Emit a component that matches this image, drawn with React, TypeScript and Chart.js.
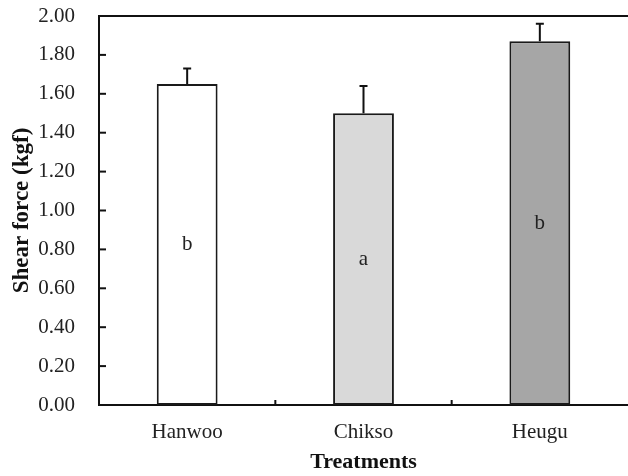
import React, { useEffect, useRef } from 'react';
import { Chart, registerables } from 'chart.js';

Chart.register(...registerables);

const categories = ['Hanwoo', 'Chikso', 'Heugu'];
const means = [1.65, 1.5, 1.87];
const errors = [0.08, 0.14, 0.09];
const letters = ['b', 'a', 'b'];
const barColors = ['#ffffff', '#d9d9d9', '#a6a6a6'];
const yMin = 0;
const yMax = 2;
const yStep = 0.2;

const FONT = '"Liberation Serif", "Times New Roman", serif';

const decorPlugin = {
  id: 'decor',
  afterDatasetsDraw(chart: any) {
    const { ctx, chartArea, scales } = chart;
    const x = scales.x;
    const y = scales.y;
    const meta = chart.getDatasetMeta(0);
    ctx.save();
    ctx.strokeStyle = '#111';
    ctx.lineWidth = 2;
    meta.data.forEach((bar: any, i: number) => {
      const base = y.getPixelForValue(means[i]);
      const top = y.getPixelForValue(means[i] + errors[i]);
      ctx.beginPath();
      ctx.moveTo(bar.x, base);
      ctx.lineTo(bar.x, top);
      ctx.moveTo(bar.x - 4, top);
      ctx.lineTo(bar.x + 4, top);
      ctx.stroke();
      ctx.fillStyle = '#222';
      ctx.font = `21px ${FONT}`;
      ctx.textAlign = 'center';
      ctx.textBaseline = 'middle';
      ctx.fillText(letters[i], bar.x, y.getPixelForValue(means[i] / 2));
    });
    // top border line
    ctx.beginPath();
    ctx.moveTo(chartArea.left - 1, chartArea.top);
    ctx.lineTo(chartArea.right, chartArea.top);
    ctx.stroke();
    // inward y ticks
    y.ticks.forEach((_t: any, i: number) => {
      const py = y.getPixelForTick(i);
      ctx.beginPath();
      ctx.moveTo(chartArea.left, py);
      ctx.lineTo(chartArea.left + 7, py);
      ctx.stroke();
    });
    // inward x ticks at category boundaries
    for (let i = 1; i < categories.length; i++) {
      const px = (x.getPixelForValue(i - 1) + x.getPixelForValue(i)) / 2;
      ctx.beginPath();
      ctx.moveTo(px, chartArea.bottom);
      ctx.lineTo(px, chartArea.bottom - 5);
      ctx.stroke();
    }
    ctx.restore();
  },
};

export default function App() {
  const ref = useRef<HTMLCanvasElement>(null);
  useEffect(() => {
    if (!ref.current) return;
    const chart = new Chart(ref.current, {
      type: 'bar',
      data: {
        labels: categories,
        datasets: [
          {
            data: means,
            backgroundColor: barColors,
            borderColor: '#1a1a1a',
            borderWidth: 2,
            borderSkipped: false,
            categoryPercentage: 1,
            barPercentage: 0.345,
          },
        ],
      },
      options: {
        animation: false,
        responsive: true,
        maintainAspectRatio: false,
        layout: { padding: { top: 16, right: 0, left: 0, bottom: 0 } },
        plugins: { legend: { display: false }, tooltip: { enabled: false } },
        scales: {
          x: {
            grid: { display: false, drawTicks: false },
            border: { display: true, color: '#111', width: 2 },
            ticks: { color: '#222', font: { family: FONT, size: 21 }, padding: 15 },
            title: {
              display: true,
              text: 'Treatments',
              color: '#111',
              font: { family: FONT, size: 22, weight: 'bold' },
              padding: { top: 0, bottom: 0 },
            },
            afterFit(scale: any) {
              scale.height = 71;
              scale.paddingLeft = 0;
              scale.paddingRight = 0;
            },
          },
          y: {
            min: yMin,
            max: yMax,
            grid: { display: false, drawTicks: false },
            border: { display: true, color: '#111', width: 2 },
            ticks: {
              stepSize: yStep,
              color: '#222',
              font: { family: FONT, size: 21 },
              padding: 24,
              callback: (v: any) => Number(v).toFixed(2),
            },
            title: {
              display: true,
              text: 'Shear force (kgf)',
              color: '#111',
              font: { family: FONT, size: 23, weight: 'bold' },
              padding: { top: 8, bottom: 0 },
            },
            afterFit(scale: any) {
              scale.width = 99;
              scale.paddingTop = 0;
              scale.paddingBottom = 0;
            },
          },
        },
      },
      plugins: [decorPlugin],
    });
    return () => chart.destroy();
  }, []);
  return (
    <div style={{ position: 'fixed', left: 0, top: 0, width: 628, height: 476 }}>
      <canvas ref={ref} />
    </div>
  );
}
